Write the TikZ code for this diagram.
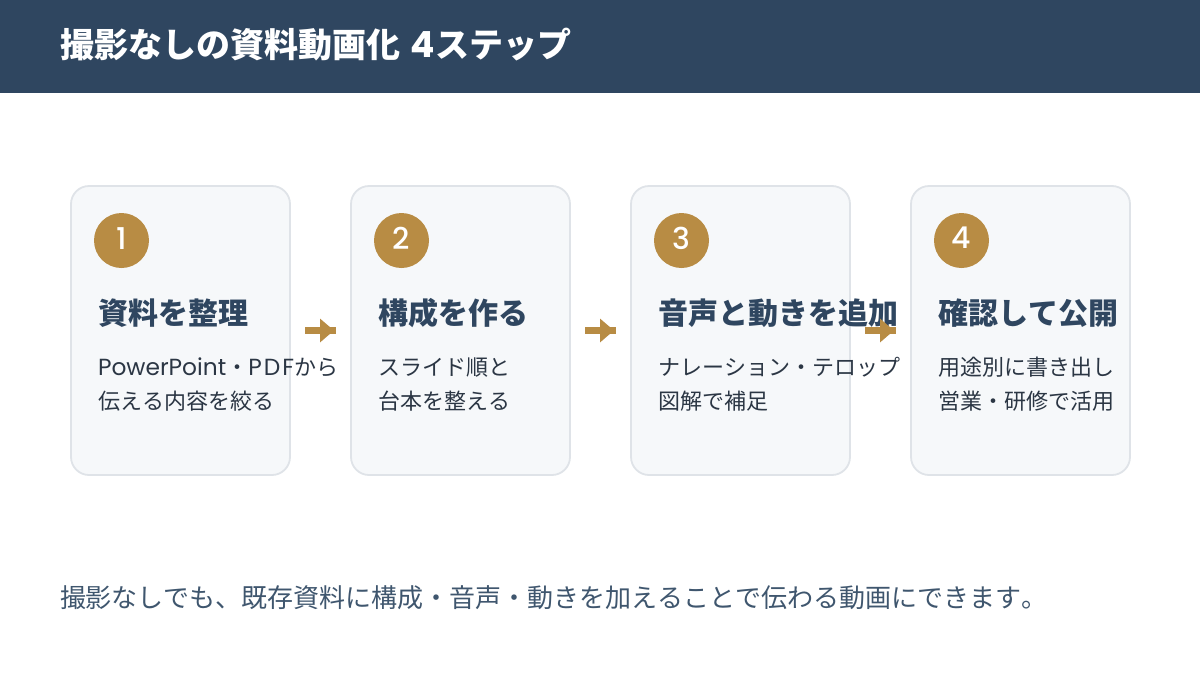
\documentclass[tikz,border=0pt]{standalone}
\usepackage{fontspec}
\usetikzlibrary{arrows.meta}
\setmainfont{Noto Sans CJK JP}[Kerning=Off]
\newfontfamily\latinfont{Poppins}[Scale=1.06]
\newfontfamily\capsfont{Poppins}[Scale=1.06,LetterSpace=9]
\newfontfamily\digitfont{Poppins Medium}
\definecolor{navy}{HTML}{2F4660}
\definecolor{gold}{HTML}{B88C44}
\definecolor{cardfill}{HTML}{F6F8FA}
\definecolor{cardline}{HTML}{DFE3E8}
\definecolor{bodyink}{HTML}{2B3644}
\definecolor{noteink}{HTML}{3F566E}
\newcommand{\pxfont}[1]{\fontsize{#1}{#1}\selectfont}

\begin{document}
\begin{tikzpicture}[x=0.5pt,y=-0.5pt,
    every node/.style={inner sep=0pt,outer sep=0pt},
    card/.style={draw=cardline,fill=cardfill,line width=0.9pt,rounded corners=9pt,minimum width=109.5pt,minimum height=144.5pt},
    badge/.style={circle,fill=gold,minimum size=27.5pt,text=white,font=\digitfont\pxfont{15}},
    head/.style={anchor=base west,text=navy,font=\pxfont{15}\bfseries},
    body/.style={anchor=base west,text=bodyink,font=\pxfont{11}},
    flow/.style={draw=gold,line width=3.3pt,postaction={draw,shorten >=1pt,-{Triangle[length=7pt,width=11.5pt]}}}]
    \useasboundingbox (0,0) rectangle (1200,675);
    \fill[navy] (0,0) rectangle (1200,93);
    \node[anchor=base west,text=white,font=\pxfont{17}\bfseries] (title) at (61,57) {撮影なしの資料動画化\kern1pt{} {\latinfont 4}ステップ};
    % cards
    \node[card] (cardA) at (180.5,330.5) {};
    \node[card] (cardB) at (460.5,330.5) {};
    \node[card] (cardC) at (740.5,330.5) {};
    \node[card] (cardD) at (1020.5,330.5) {};
    % numbers
    \node[badge] (numA) at (121.5,240.5) {\raisebox{2.4pt}{1}};
    \node[badge] (numB) at (401.5,240.5) {\raisebox{2.4pt}{2}};
    \node[badge] (numC) at (681.5,240.5) {\raisebox{2.4pt}{3}};
    \node[badge] (numD) at (961.5,240.5) {\raisebox{2.4pt}{4}};
    % first card
    \node[head] (headA) at (98,324) {資料を整理};
    \node[body] (bodyAa) at (98,375) {{\latinfont PowerPoint}・{\capsfont PDF}から};
    \node[body] (bodyAb) at (98,409) {伝える内容を絞る};
    % second card
    \node[head] (headB) at (378,324) {構成を作る};
    \node[body] (bodyBa) at (378,375) {スライド順と};
    \node[body] (bodyBb) at (378,409) {台本を整える};
    % third card
    \node[head] (headC) at (658,324) {音声と動きを追加};
    \node[body] (bodyCa) at (658,375) {ナレーション・テロップ};
    \node[body] (bodyCb) at (658,409) {図解で補足};
    % fourth card
    \node[head] (headD) at (938,324) {確認して公開};
    \node[body] (bodyDa) at (938,375) {用途別に書き出し};
    \node[body] (bodyDb) at (938,409) {営業・研修で活用};
    % arrows
    \coordinate (fromA) at (305,330.5);
    \coordinate (toB) at (336,330.5);
    \coordinate (fromB) at (585,330.5);
    \coordinate (toC) at (616,330.5);
    \coordinate (fromC) at (865,330.5);
    \coordinate (toD) at (896,330.5);
    \draw[flow] (fromA) -- (toB);
    \draw[flow] (fromB) -- (toC);
    \draw[flow] (fromC) -- (toD);
    \node[anchor=base west,text=noteink,font=\pxfont{13}] (note) at (60,607) {撮影なしでも、既存資料に構成・音声・動きを加えることで伝わる動画にできます。};
\end{tikzpicture}
\end{document}
